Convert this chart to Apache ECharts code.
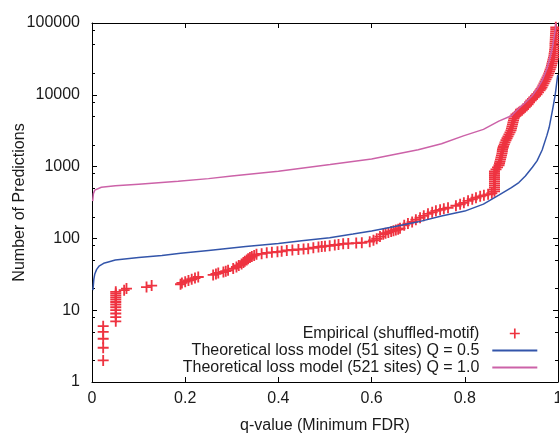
<!DOCTYPE html>
<html>
<head>
<meta charset="utf-8">
<script src="https://cdn.jsdelivr.net/npm/echarts@6/dist/echarts.min.js"></script>
<style>
html,body{margin:0;padding:0;background:#fff;}
#chart{width:559px;height:433px;}
</style>
</head>
<body>
<div id="chart"></div>
<script>
// ---------- data ----------
const xTicks = [0, 0.2, 0.4, 0.6, 0.8, 1];
const yTicks = [1, 10, 100, 1000, 10000, 100000];
const yMinorTicks = [2, 5, 8, 20, 50, 80, 200, 500, 800, 2000, 5000, 8000, 20000, 50000, 80000];

// Empirical (shuffled-motif): q-value and number of predictions
const empiricalQ = [
  0.024, 0.024, 0.024, 0.024, 0.024,
  0.051, 0.051, 0.051, 0.051, 0.051, 0.051, 0.051, 0.051, 0.051, 0.051, 0.051, 0.051,
  0.069, 0.074, 0.117, 0.128, 0.190, 0.193,
  0.200, 0.207, 0.214, 0.221, 0.228,
  0.260, 0.266, 0.271, 0.282, 0.287, 0.292, 0.303,
  0.310, 0.315, 0.321, 0.325, 0.328, 0.332, 0.335, 0.339, 0.343, 0.348, 0.353, 0.364, 0.375, 0.386,
  0.398, 0.407, 0.418, 0.430, 0.443, 0.454, 0.464, 0.475, 0.486, 0.493, 0.500, 0.510, 0.521, 0.529,
  0.539, 0.550, 0.567, 0.579, 0.596, 0.604, 0.611, 0.618, 0.625, 0.630, 0.636, 0.642, 0.647, 0.652,
  0.657, 0.661,
  0.670, 0.678, 0.687, 0.695, 0.704, 0.712, 0.721, 0.730, 0.738, 0.747, 0.755, 0.764,
  0.781, 0.790, 0.798, 0.807, 0.816, 0.824, 0.833, 0.841, 0.850, 0.858,
  0.8637, 0.8637, 0.8637, 0.8637, 0.8637, 0.8637, 0.8637, 0.8637, 0.8637, 0.8637, 0.8637,
  0.8670, 0.8702, 0.8734, 0.8745, 0.8755, 0.8766, 0.8777, 0.8787, 0.8798, 0.8805, 0.8809, 0.8820,
  0.8830, 0.8848, 0.8863, 0.8884, 0.8906, 0.8927, 0.8948, 0.8970, 0.8991, 0.9002, 0.9013, 0.9024,
  0.9034, 0.9045, 0.9056, 0.9077, 0.9099, 0.9131, 0.9163, 0.9195, 0.9227, 0.9260, 0.9292, 0.9324,
  0.9356, 0.9388, 0.9421, 0.9453, 0.9485, 0.9517, 0.9549, 0.9582, 0.9614, 0.9635, 0.9657, 0.9678,
  0.9700, 0.9721, 0.9742, 0.9764, 0.9785, 0.9803, 0.9818, 0.9833, 0.9850, 0.9861, 0.9871, 0.9882,
  0.9893, 0.9903, 0.9914, 0.9918, 0.9925, 0.9929, 0.9936, 0.9936, 0.9936, 0.9940, 0.9942, 0.9944,
  0.9946, 0.9948, 0.9951, 0.9953, 0.9953
];
const empiricalN = [
  2, 3, 4, 5, 6,
  7, 8, 9, 10, 11, 12, 13, 14, 15, 16, 17, 18,
  19, 20, 21, 22, 23, 24,
  25, 26, 27, 28, 29,
  31, 32, 33, 34, 35, 36, 38,
  40, 42, 44, 46, 48, 50, 52, 54, 56, 58, 60, 61, 63, 64,
  65, 66, 68, 69, 70, 71, 72, 74, 76, 77, 78, 79, 81, 82,
  84, 85, 86, 87, 90, 94, 99, 106, 114, 118, 121, 125, 128, 131,
  134, 138,
  152, 161, 169, 182, 194, 206, 220, 231, 242, 250, 258, 267,
  285, 299, 313, 334, 351, 368, 385, 398, 411, 425,
  453, 483, 515, 549, 585, 624, 666, 710, 757, 807, 860,
  917, 978, 1043, 1112, 1185, 1264, 1347, 1437, 1532, 1634, 1741, 1828,
  1918, 2045, 2180, 2325, 2479, 2642, 2818, 3004, 3203, 3415, 3641, 3882,
  4140, 4414, 4706, 5018, 5350, 5524, 5705, 5891, 6083, 6383, 6698, 7028,
  7375, 7862, 8382, 8796, 9230, 9685, 10160, 10830, 11550, 12120, 12720, 13560,
  14460, 15420, 16440, 17530, 18690, 19930, 21250, 22650, 24160, 25750, 27460, 29280,
  31220, 33280, 35490, 37840, 40350, 43020, 45870, 48910, 52150, 55600, 59290, 63210,
  67410, 71870, 76640, 81740, 87140
];

// Theoretical loss model (51 sites) Q = 0.5
const model05Q = [0.002, 0.004, 0.006, 0.010, 0.015, 0.025, 0.035, 0.050, 0.075, 0.100, 0.150, 0.190,
  0.250, 0.330, 0.400, 0.450, 0.510, 0.560, 0.600, 0.650, 0.700, 0.750, 0.800, 0.840, 0.873, 0.900,
  0.916, 0.930, 0.945, 0.955, 0.966, 0.976, 0.981, 0.988, 0.994, 0.998, 0.9995];
const model05N = [19, 27, 32, 37, 41, 45, 47, 50, 52, 54, 58, 62,
  68, 77, 85, 93, 102, 115, 127, 146, 170, 205, 240, 300, 400, 510,
  600, 740, 980, 1200, 1700, 2700, 3500, 6000, 10000, 16000, 19000];

// Theoretical loss model (521 sites) Q = 1.0
const model10Q = [0.0015, 0.003, 0.006, 0.010, 0.020, 0.050, 0.100, 0.185, 0.250, 0.300, 0.400, 0.511,
  0.600, 0.654, 0.700, 0.750, 0.797, 0.840, 0.873, 0.900, 0.916, 0.930, 0.945, 0.955, 0.966, 0.975,
  0.981, 0.988, 0.994, 0.9955];
const model10N = [330, 420, 470, 495, 515, 540, 570, 624, 680, 740, 860, 1070,
  1280, 1500, 1720, 2080, 2680, 3300, 4300, 5100, 6500, 7800, 9800, 12000, 15900, 22000,
  30000, 46000, 79000, 100000];

// ---------- chart ----------
const FONT = "'Liberation Sans', Arial, Helvetica, sans-serif";
const TXT = '#1a1a1a';
const zip = (a, b) => a.map((v, i) => [v, b[i]]);
const PLUS = 'path://M5,0H7V5H12V7H7V12H5V7H0V5H5Z';

const chart = echarts.init(document.getElementById('chart'), null, {renderer: 'canvas'});

const baseY = {
  type: 'log', logBase: 10, min: 1, max: 100000, gridIndex: 0,
  splitLine: {show: false}
};

chart.setOption({
  animation: false,
  backgroundColor: '#fff',
  grid: {left: 92, top: 23, width: 466, height: 359, containLabel: false, outerBoundsMode: 'none'},
  legend: {
    orient: 'vertical', align: 'right', right: 20.7, top: 325, padding: 0,
    itemWidth: 45, itemHeight: 10, itemGap: 0, selectedMode: false,
    textStyle: {fontFamily: FONT, fontSize: 16, color: TXT, lineHeight: 17, padding: [0, 8, 0, 0]},
    data: [
      {name: 'Empirical (shuffled-motif)'},
      {name: 'Theoretical loss model (51 sites) Q = 0.5', itemStyle: {opacity: 0}},
      {name: 'Theoretical loss model (521 sites) Q = 1.0', itemStyle: {opacity: 0}}
    ]
  },
  xAxis: [
    {
      type: 'value', min: 0, max: 1, interval: 0.2, position: 'bottom',
      name: 'q-value (Minimum FDR)', nameLocation: 'middle', nameGap: 36, nameMoveOverlap: false,
      nameTextStyle: {fontFamily: FONT, fontSize: 16, color: TXT},
      axisLine: {show: true, lineStyle: {color: '#000', width: 1}},
      axisTick: {show: true, inside: true, length: 5, lineStyle: {color: '#000'}, customValues: xTicks},
      axisLabel: {show: true, margin: 9, fontFamily: FONT, fontSize: 16, color: TXT, customValues: xTicks,
        formatter: v => String(Math.round(v * 10) / 10)},
      splitLine: {show: false}
    },
    {
      type: 'value', min: 0, max: 1, interval: 0.2, position: 'top',
      axisLine: {show: true, lineStyle: {color: '#000', width: 1}},
      axisTick: {show: true, inside: true, length: 5, lineStyle: {color: '#000'}, customValues: xTicks},
      axisLabel: {show: false},
      splitLine: {show: false}
    }
  ],
  yAxis: [
    Object.assign({}, baseY, {
      position: 'left',
      name: 'Number of Predictions', nameLocation: 'middle', nameGap: 64, nameMoveOverlap: false,
      nameTextStyle: {fontFamily: FONT, fontSize: 16, color: TXT},
      axisLine: {show: true, lineStyle: {color: '#000', width: 1}},
      axisTick: {show: true, inside: true, length: 5, lineStyle: {color: '#000'}, customValues: yTicks},
      axisLabel: {show: true, margin: 12, fontFamily: FONT, fontSize: 16, color: TXT, customValues: yTicks,
        formatter: v => String(Math.round(v))}
    }),
    Object.assign({}, baseY, {
      position: 'left',
      axisLine: {show: false},
      axisTick: {show: true, inside: true, length: 3, lineStyle: {color: '#000'}, customValues: yMinorTicks},
      axisLabel: {show: false}
    }),
    Object.assign({}, baseY, {
      position: 'right',
      axisLine: {show: true, lineStyle: {color: '#000', width: 1}},
      axisTick: {show: true, inside: true, length: 5, lineStyle: {color: '#000'}, customValues: yTicks},
      axisLabel: {show: false}
    }),
    Object.assign({}, baseY, {
      position: 'right',
      axisLine: {show: false},
      axisTick: {show: true, inside: true, length: 3, lineStyle: {color: '#000'}, customValues: yMinorTicks},
      axisLabel: {show: false}
    })
  ],
  series: [
    {
      name: 'Empirical (shuffled-motif)', type: 'scatter',
      xAxisIndex: 0, yAxisIndex: 0,
      symbol: PLUS, symbolSize: 11, symbolKeepAspect: true,
      itemStyle: {color: '#ee3340', opacity: 1},
      data: zip(empiricalQ, empiricalN), z: 2
    },
    {
      name: 'Theoretical loss model (51 sites) Q = 0.5', type: 'line',
      xAxisIndex: 0, yAxisIndex: 0,
      symbol: 'none', showSymbol: false, smooth: false,
      lineStyle: {color: '#3355aa', width: 1.5},
      itemStyle: {color: '#3355aa', opacity: 0},
      data: zip(model05Q, model05N), z: 3
    },
    {
      name: 'Theoretical loss model (521 sites) Q = 1.0', type: 'line',
      xAxisIndex: 0, yAxisIndex: 0,
      symbol: 'none', showSymbol: false, smooth: false,
      lineStyle: {color: '#cc62a8', width: 1.5},
      itemStyle: {color: '#cc62a8', opacity: 0},
      data: zip(model10Q, model10N), z: 3
    }
  ]
});
</script>
</body>
</html>
